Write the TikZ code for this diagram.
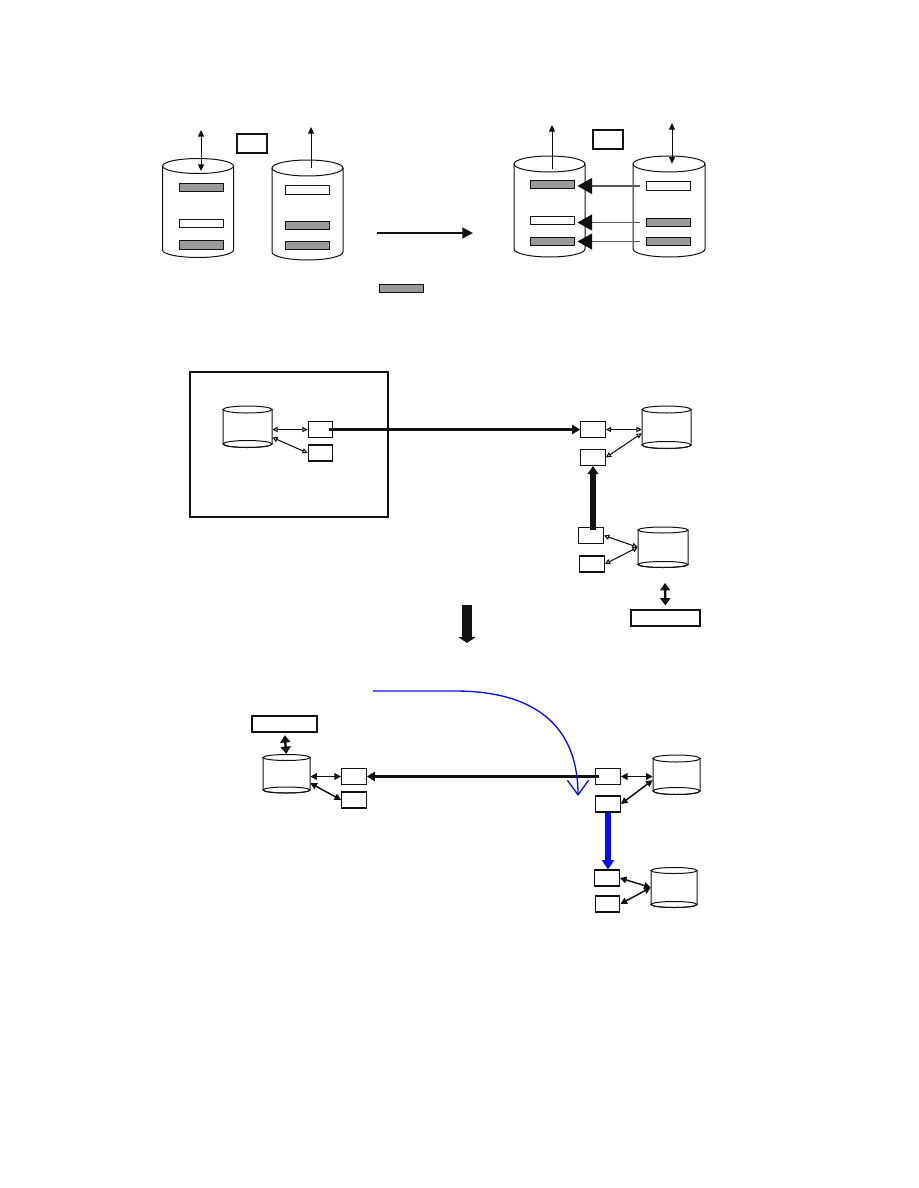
\documentclass[tikz,border=0pt]{standalone}
\usepackage{tikz}
\usetikzlibrary{arrows.meta,fit}
\definecolor{cgray}{HTML}{9A9A9A}
\definecolor{cblue}{HTML}{0A0AF0}
\definecolor{cink}{HTML}{111111}
\tikzset{
  slot/.style={draw=cink,line width=0.7pt,inner sep=0pt,minimum width=33pt,minimum height=6.6pt},
  unit/.style={draw=cink,line width=0.8pt,inner sep=0pt,minimum width=18.5pt,minimum height=12pt},
  tagbox/.style={draw=cink,line width=0.8pt,inner sep=0pt,minimum width=22.5pt,minimum height=14.25pt},
  thin2/.style={cink,line width=0.7pt,{Triangle[length=5pt,width=4.5pt]}-{Triangle[length=5pt,width=4.5pt]}},
  thin1/.style={cink,line width=0.7pt,-{Triangle[length=5pt,width=4.5pt]}},
  copyarr/.style={cink!70,line width=0.8pt,-{Triangle[length=11pt,width=12pt,color=cink,fill=cink]}},
  link/.style={cink,line width=0.8pt,{Triangle[open,length=4pt,width=4pt]}-{Triangle[open,length=4pt,width=4pt]}},
  linkf/.style={cink,line width=1.1pt,{Triangle[length=5pt,width=5pt]}-{Triangle[length=5pt,width=5pt]}},
  trunk/.style={cink,line width=2.6pt,-{Triangle[length=6pt,width=7pt]}},
  riser/.style={cink,line width=3.8pt,-{Triangle[length=6pt,width=8pt]}},
  fat2/.style={cink,line width=1.8pt,{Triangle[length=5.5pt,width=7.5pt]}-{Triangle[length=5.5pt,width=7.5pt]}},
  block/.style={cink,line width=8pt,-{Triangle[length=4.5pt,width=13pt]}},
  swing/.style={cblue,line width=1pt,-{Straight Barb[length=11pt,width=16pt]}},
  bluerise/.style={cblue,line width=3.8pt,-{Triangle[length=7pt,width=9pt]}}
}
% drum: name, x, top y, bottom y, x radius, y radius
\newcommand{\drum}[6]{%
  \draw[cink,line width=0.75pt,fill=white] (#2-#5,#3) -- (#2-#5,#4) arc[start angle=180,end angle=0,x radius=#5,y radius=#6] -- (#2+#5,#3);
  \draw[cink,line width=0.75pt] (#2,#3) ellipse[x radius=#5,y radius=#6];
  \coordinate (#1-a) at (#2-#5,#3);
  \coordinate (#1-b) at (#2+#5,#4);
  \node[inner sep=0pt,fit=(#1-a)(#1-b)] (#1) {};
}

\begin{document}
\begin{tikzpicture}[x=0.75pt,y=-0.75pt]
\useasboundingbox (0,0) rectangle (918,1188);
% --- before / after copy
\foreach \nm/\cx/\ct/\cb/\rx/\ry in {cyl1/198/166/250/35.5/7.5, cyl2/307.5/168/252/35.5/8,
   cyl3/549.5/164/249/35.5/8, cyl4/669/164/249/36/8}{
  \drum{\nm}{\cx}{\ct}{\cb}{\rx}{\ry}
}
\foreach \nm/\px/\py/\fc in {s1a/201/187.5/cgray, s1b/201/223.5/white, s1c/201/245/cgray,
   s2a/307/190/white, s2b/307/225.5/cgray, s2c/307/245.5/cgray,
   s3a/552/184.5/cgray, s3b/552/220.5/white, s3c/552/241.5/cgray,
   s4a/668.5/186/white, s4b/668.5/222.5/cgray, s4c/668.5/241.5/cgray, key/401/288.5/cgray}{
  \node[slot,fill=\fc] (\nm) at (\px,\py) {};
}
\node[tagbox] (tagL) at (252,143.5) {};
\node[tagbox] (tagR) at (608,139.5) {};
\coordinate (up1) at (201,130);
\coordinate (up2) at (311,127);
\coordinate (up3) at (552,125);
\coordinate (up4) at (672,123);
\draw[thin2] (up1) -- ([yshift=-4pt]up1 |- cyl1.north);
\draw[thin1] (up2 |- cyl2.north) -- (up2);
\draw[thin1] ([yshift=-4pt]up3 |- cyl3.north) -- (up3);
\draw[thin2] (up4) -- (up4 |- cyl4.north);
\foreach \src/\dst in {s4a/s3a,s4b/s3b,s4c/s3c}
  \draw[copyarr,shorten <=4.5pt,shorten >=2.25pt] (\src.west) -- (\src.west -| \dst.east);
\coordinate (go1) at (377,233);
\coordinate (go2) at (473,233);
\draw[cink,line width=2pt,-{Triangle[length=8pt,width=8pt]}] (go1) -- (go2);

% --- three sites
\node[draw=cink,line width=0.8pt,inner sep=0pt,minimum width=148.5pt,minimum height=108.75pt] (site) at (289,444.5) {};
\foreach \nm/\cx/\ct/\cb/\rx/\ry in {cylA/247.5/409.5/444/24.5/3.5, cylB/666.5/409.5/445/24.5/3.5,
   cylC/663/530/564.5/25/3, cylE/286.5/757.5/790/23.5/3, cylF/676.5/758.5/791/23.5/3.5,
   cylG/674/870.5/904.5/23/3}{
  \drum{\nm}{\cx}{\ct}{\cb}{\rx}{\ry}
  \draw[cink,line width=0.75pt] (\cx,\cb) ellipse[x radius=\rx,y radius=\ry];
}
\foreach \nm/\px/\py in {A1/320.5/429.5, A2/320.5/453, B1/593/429.5, B2/593/457.5, C1/591/535.5,
   C2/592/564, E1/354/776.5, E2/354/800, F1/608/776.5, F2/608/804, G1/607/878, G2/607.5/904}{
  \node[unit] (\nm) at (\px,\py) {};
}
\node[draw=cink,line width=0.8pt,inner sep=0pt,minimum width=51.75pt,minimum height=12pt] (lbD) at (665.5,618) {};
\node[draw=cink,line width=0.8pt,inner sep=0pt,minimum width=48.75pt,minimum height=12pt] (lbE) at (284.5,724) {};

\draw[link] (A1.west -| cylA.east) -- (A1.west);
\draw[link] ([yshift=-8pt]cylA.east) -- (A2.west);
\draw[link] (B1.east) -- (B1.east -| cylB.west);
\draw[link] (B2.east) -- ([yshift=-4.5pt]cylB.west);
\draw[link] (C1.east) -- (cylC.west);
\draw[link] (C2.east) -- (cylC.west);
\draw[trunk] ([xshift=-3pt]A1.east) -- (A1.east -| B1.west);
\draw[riser] ([yshift=-2pt]C1.north -| B2.south) -- (B2.south);
\coordinate (dnD) at (665,583);
\draw[fat2,shorten <=3pt] (lbD.north) -- (dnD);

\coordinate (dn1) at (467,605);
\coordinate (dn2) at (467,643);
\draw[block] (dn1) -- (dn2);

% --- after switch-over
\draw[fat2,shorten <=2pt,shorten >=2.5pt] (lbE.south) -- (cylE.north);
\draw[linkf] (E1.west -| cylE.east) -- (E1.west);
\draw[linkf] ([yshift=-7pt]cylE.east) -- (E2.west);
\draw[linkf] (F1.east) -- (F1.east -| cylF.west);
\draw[linkf] (F2.east) -- ([yshift=-4pt]cylF.west);
\draw[linkf] (G1.east) -- (cylG.west);
\draw[linkf] (G2.east) -- (cylG.west);
\draw[trunk] ([xshift=3pt]F1.west) -- (F1.west -| E1.east);
\draw[bluerise] (F2.south) -- (G1.north -| F2.south);
\coordinate (sw1) at (373,691);
\coordinate (sw2) at (578,796);
\draw[swing] (sw1) -- (455,691) .. controls (545,691) and (578,735) .. (sw2);
\end{tikzpicture}
\end{document}
